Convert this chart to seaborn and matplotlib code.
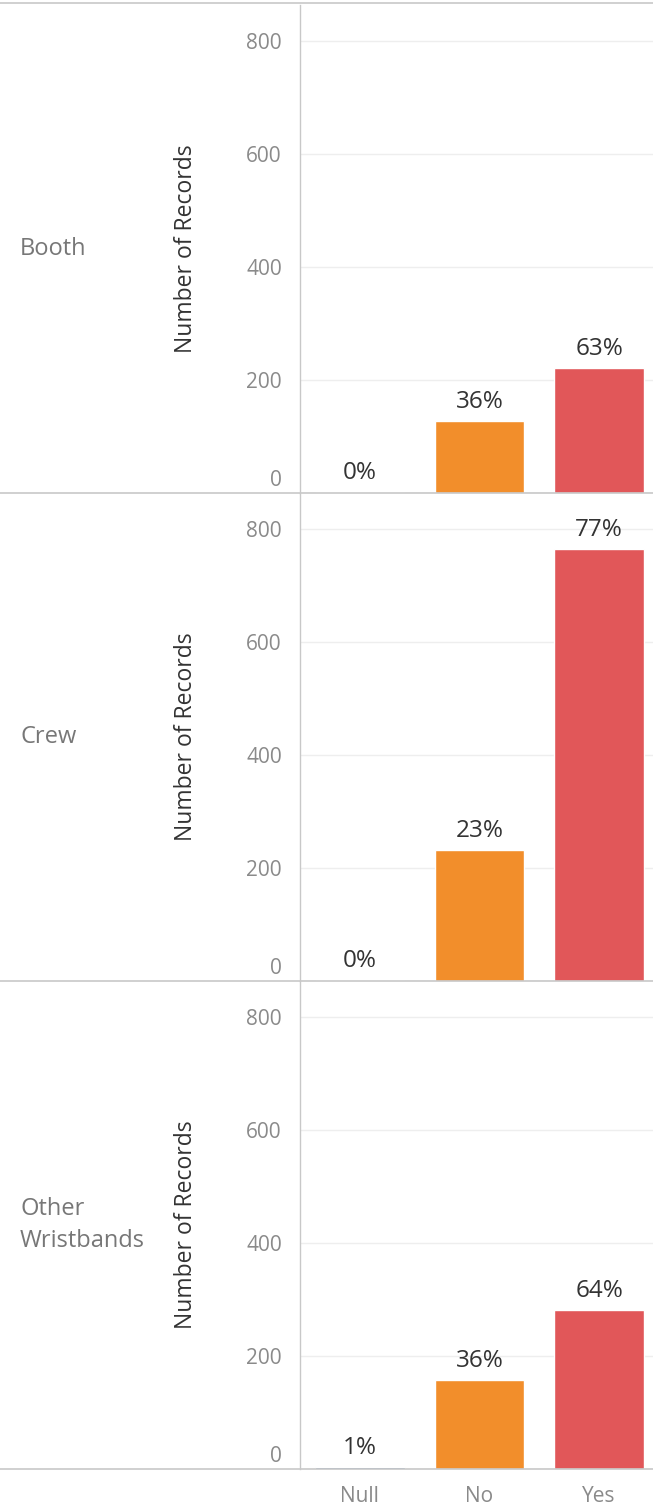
import matplotlib
matplotlib.use("Agg")
import matplotlib.pyplot as plt
import matplotlib.transforms as mtrans
import seaborn as sns
import pandas as pd

# ---- data ----
groups = ["Booth", "Crew", "Other\nWristbands"]
answers = ["Null", "No", "Yes"]
booth_vals = [1, 127, 222]
crew_vals = [1, 232, 765]
other_vals = [4, 158, 282]
y_ticks = [0, 200, 400, 600, 800]
palette = {"Null": "#4E79A7", "No": "#F28E2B", "Yes": "#E15759"}

sns.set_theme(style="white")
plt.rcParams["font.family"] = ["Open Sans", "DejaVu Sans"]

W, H = 653, 1507
fig = plt.figure(figsize=(W / 100, H / 100), dpi=100)

left_px, right_px = 300, 659
panel_tops = [5, 493, 981]
panel_bots = [493, 981, 1469]
tick_col = "#8a8a8a"
line_col = "#c8c8c8"

all_vals = [booth_vals, crew_vals, other_vals]
for i, (g, vals) in enumerate(zip(groups, all_vals)):
    top, bot = panel_tops[i], panel_bots[i]
    ax = fig.add_axes([left_px / W, 1 - bot / H, (right_px - left_px) / W, (bot - top) / H])
    df = pd.DataFrame({"answer": answers, "count": vals})
    sns.barplot(data=df, x="answer", y="count", hue="answer", palette=palette,
                order=answers, hue_order=answers, width=0.75, legend=False,
                saturation=1, ax=ax)
    ax.set_ylim(0, 864)
    ax.set_xlim(-0.5, 2.5)
    ax.set_yticks(y_ticks)
    ax.set_yticklabels([str(t) for t in y_ticks], fontsize=15, color=tick_col)
    ax.tick_params(axis="y", length=0, pad=13)
    # shift the bottom "0" label up like the reference
    lbl0 = ax.get_yticklabels()[0]
    lbl0.set_transform(lbl0.get_transform() + mtrans.ScaledTranslation(0, 0.15, fig.dpi_scale_trans))
    ax.grid(axis="y", color="#eeeeee", linewidth=1)
    ax.set_axisbelow(True)
    for s in ["top", "right", "bottom"]:
        ax.spines[s].set_visible(False)
    ax.spines["left"].set_color(line_col)
    ax.spines["left"].set_linewidth(1)
    ax.set_ylabel("Number of Records", fontsize=16.5, color="#333333")
    ax.yaxis.set_label_coords(-102 / (right_px - left_px), 0.5)
    ax.set_xlabel("")
    if i < 2:
        ax.set_xticks([])
    else:
        ax.set_xticks(range(len(answers)))
        ax.set_xticklabels(answers, fontsize=15, color=tick_col)
        ax.tick_params(axis="x", length=0, pad=12)
    total = sum(vals)
    for j, v in enumerate(vals):
        ax.annotate(f"{round(100 * v / total)}%", (j, v), xytext=(0, 5),
                    textcoords="offset points", ha="center", va="bottom",
                    fontsize=17.5, color="#333333")
    # row label
    fig.text(20 / W, 1 - (top + bot) / 2 / H, g, ha="left", va="center",
             fontsize=17, color="#777777", linespacing=1.45)
    # separator line
    fig.add_artist(plt.Line2D([0, 1], [1 - bot / H, 1 - bot / H], color=line_col, linewidth=1.2,
                              transform=fig.transFigure))

fig.add_artist(plt.Line2D([0, 1], [1 - 3 / H, 1 - 3 / H], color=line_col, linewidth=1.2,
                          transform=fig.transFigure))

fig.savefig("out.png", dpi=100)
